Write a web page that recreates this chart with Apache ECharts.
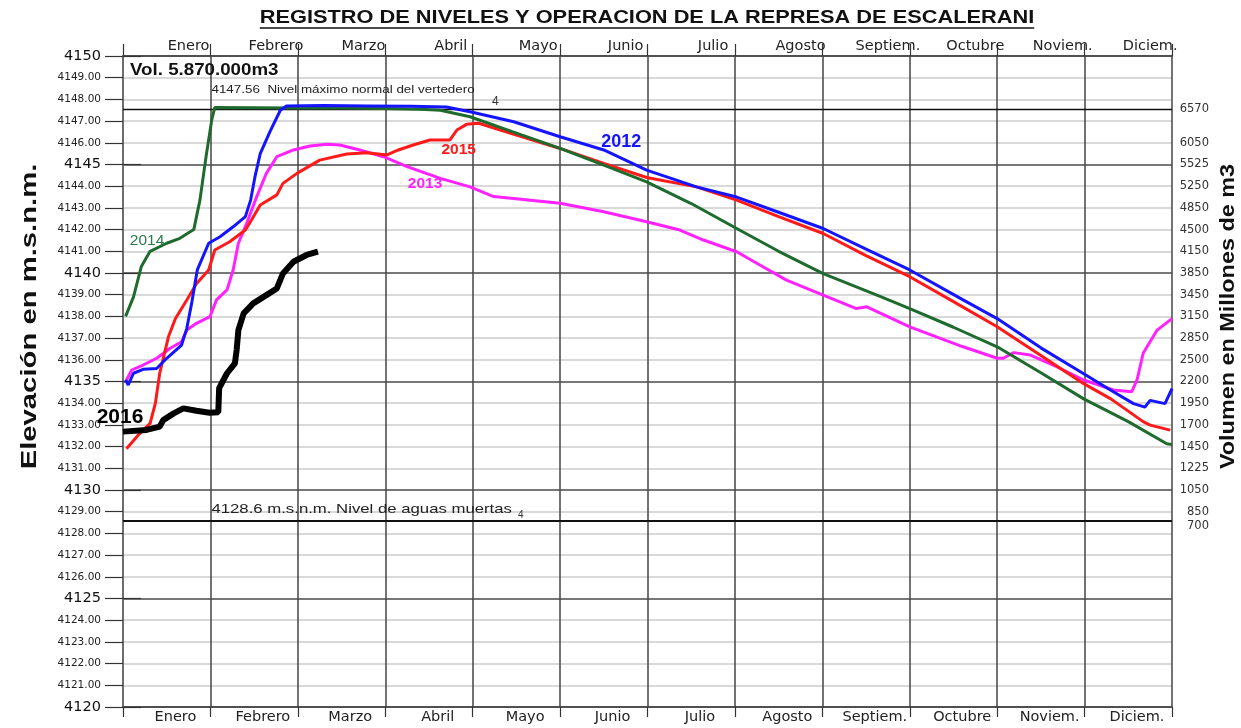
<!DOCTYPE html>
<html><head><meta charset="utf-8">
<script src="https://cdn.jsdelivr.net/npm/echarts@6/dist/echarts.min.js"></script>
<style>html,body{margin:0;padding:0;background:#fff}#c{width:1241px;height:728px}</style>
</head><body><div id="c"></div>
<script>
// ---------- DATA ----------
const chartTitle = 'REGISTRO DE NIVELES Y OPERACION DE LA REPRESA DE ESCALERANI';
const months = ['Enero','Febrero','Marzo','Abril','Mayo','Junio','Julio','Agosto','Septiem.','Octubre','Noviem.','Diciem.'];
// right axis: elevation (m.s.n.m.) -> volume label
const volElev   = [4147.56, 4146, 4145, 4144, 4143, 4142, 4141, 4140, 4139, 4138, 4137, 4136, 4135, 4134, 4133, 4132, 4131, 4130, 4129, 4128.6];
const volLabels = ['6570','6050','5525','5250','4850','4500','4150','3850','3450','3150','2850','2500','2200','1950','1700','1450','1225','1050','850','700'];
const maxLevel = 4147.56;
const deadLevel = 4128.6;
// x = month position (0 = start of Enero, 12 = end of Diciembre), y = elevation
const s2012 = [[0.03,4135.07],[0.06,4134.84],[0.12,4135.38],[0.23,4135.56],[0.385,4135.6],[0.5,4136.07],[0.67,4136.68],[0.73,4137.45],[0.785,4138.6],[0.85,4140.14],[0.98,4141.37],[1.11,4141.67],[1.26,4142.13],[1.4,4142.6],[1.46,4143.36],[1.51,4144.44],[1.57,4145.5],[1.68,4146.5],[1.8,4147.5],[1.87,4147.7],[2.3,4147.72],[2.8,4147.7],[3.3,4147.68],[3.7,4147.65],[3.97,4147.43],[4.47,4146.97],[5.0,4146.28],[5.5,4145.67],[5.99,4144.74],[6.56,4143.97],[7.02,4143.5],[7.5,4142.8],[8.01,4142.05],[8.5,4141.1],[9.0,4140.14],[9.61,4138.76],[10.0,4137.9],[10.5,4136.55],[10.99,4135.36],[11.3,4134.6],[11.56,4133.98],[11.69,4133.82],[11.75,4134.13],[11.92,4133.98],[12.0,4134.67]];
const s2013 = [[0.03,4134.99],[0.1,4135.53],[0.23,4135.76],[0.385,4136.07],[0.54,4136.53],[0.67,4136.83],[0.73,4137.37],[0.84,4137.68],[0.995,4137.99],[1.07,4138.76],[1.19,4139.22],[1.26,4140.14],[1.32,4141.37],[1.415,4142.29],[1.53,4143.52],[1.64,4144.59],[1.76,4145.36],[1.95,4145.67],[2.14,4145.85],[2.33,4145.93],[2.48,4145.9],[2.71,4145.67],[2.98,4145.36],[3.25,4144.9],[3.63,4144.36],[3.97,4143.97],[4.24,4143.52],[5.0,4143.21],[5.5,4142.82],[5.99,4142.36],[6.37,4141.98],[6.64,4141.52],[7.02,4140.98],[7.29,4140.36],[7.59,4139.67],[8.01,4138.98],[8.39,4138.36],[8.51,4138.44],[9.0,4137.52],[9.61,4136.6],[10.0,4136.07],[10.07,4136.07],[10.19,4136.33],[10.38,4136.22],[10.68,4135.68],[10.99,4135.07],[11.33,4134.61],[11.54,4134.53],[11.6,4135.07],[11.67,4136.3],[11.83,4137.37],[12.0,4137.9]];
const s2014 = [[0.03,4138.0],[0.12,4138.9],[0.21,4140.3],[0.31,4141.0],[0.5,4141.37],[0.65,4141.6],[0.81,4142.0],[0.88,4143.36],[0.95,4145.36],[1.015,4147.05],[1.05,4147.63],[1.5,4147.62],[2.0,4147.6],[2.5,4147.6],[3.0,4147.58],[3.4,4147.55],[3.63,4147.5],[3.97,4147.2],[4.46,4146.5],[5.0,4145.74],[5.5,4144.97],[5.99,4144.2],[6.5,4143.2],[7.02,4142.05],[7.5,4141.0],[8.01,4139.97],[8.66,4138.92],[9.0,4138.36],[9.5,4137.5],[10.0,4136.6],[10.5,4135.4],[10.99,4134.2],[11.5,4133.15],[11.94,4132.13],[12.0,4132.1]];
const s2015 = [[0.04,4131.9],[0.19,4132.6],[0.31,4133.07],[0.37,4133.99],[0.42,4135.38],[0.52,4137.06],[0.6,4137.9],[0.73,4138.76],[0.84,4139.5],[0.98,4140.14],[1.05,4141.06],[1.22,4141.44],[1.4,4141.98],[1.47,4142.44],[1.57,4143.13],[1.76,4143.6],[1.83,4144.13],[1.99,4144.59],[2.25,4145.2],[2.56,4145.48],[2.79,4145.54],[3.02,4145.44],[3.15,4145.67],[3.32,4145.9],[3.51,4146.13],[3.74,4146.13],[3.82,4146.59],[3.93,4146.85],[4.07,4146.9],[4.5,4146.36],[5.0,4145.74],[5.5,4145.05],[5.99,4144.4],[6.56,4143.97],[7.02,4143.36],[7.5,4142.6],[8.01,4141.82],[8.5,4140.8],[9.0,4139.83],[9.5,4138.68],[10.0,4137.52],[10.5,4136.2],[10.99,4134.9],[11.3,4134.2],[11.67,4133.15],[11.75,4132.99],[11.98,4132.76]];
const s2016 = [[0,4132.69],[0.27,4132.77],[0.42,4132.92],[0.46,4133.22],[0.58,4133.53],[0.69,4133.76],[0.84,4133.65],[0.99,4133.56],[1.09,4133.58],[1.1,4134.69],[1.19,4135.38],[1.28,4135.84],[1.3,4136.45],[1.32,4137.37],[1.38,4138.14],[1.49,4138.6],[1.64,4138.98],[1.76,4139.29],[1.83,4139.98],[1.95,4140.52],[2.1,4140.83],[2.23,4140.98]];
const volNote = 'Vol. 5.870.000m3';
const maxNote = '4147.56  Nivel máximo normal del vertedero';
const deadNote = '4128.6 m.s.n.m. Nivel de aguas muertas';
const leftTitle = 'Elevación en m.s.n.m.';
const rightTitle = 'Volumen en Millones de m3';

// ---------- CHART ----------
const FONT = '"Liberation Sans", Arial, sans-serif';
const WFONT = '"DejaVu Sans", sans-serif';
const C = {b:'#1414ff', r:'#ff1a1a', m:'#ff22ff', g:'#1f6b2e', k:'#000000'};
const chart = echarts.init(document.getElementById('c'), null, {renderer:'canvas'});

function lineSeries(name, data, color, width, z) {
  return {name, type:'line', data, xAxisIndex:0, yAxisIndex:0, showSymbol:false, symbol:'none',
    lineStyle:{color, width}, itemStyle:{color}, z, animation:false};
}
function note(x, y, text, color, size, weight, pos, offset) {
  return {value:[x,y], itemStyle:{opacity:1}, label:{show:true, formatter:text, color, opacity:1, fontSize:size, fontWeight:weight, fontFamily:FONT,
    position:pos, offset, distance:0}};
}
const volFmt = v => { const i = volElev.findIndex(e => Math.abs(e - v) < 1e-6); return i >= 0 ? volLabels[i] : ''; };

const gridLineColors = ['#4a4a4a','#cdcdcd','#cdcdcd','#cdcdcd','#cdcdcd'];

chart.setOption({
  animation:false,
  backgroundColor:'#fff',
  grid:{left:123, right:69, top:56, bottom:21},
  xAxis:[
    {type:'value', position:'bottom', min:0, max:12, interval:1,
     axisLine:{show:true, lineStyle:{color:'#444', width:1.5}},
     axisTick:{show:true, length:10, lineStyle:{color:'#333', width:1.2}},
     splitLine:{show:true, lineStyle:{color:'#444', width:1.5}},
     axisLabel:{customValues: months.map((_, i) => i + 0.6), formatter: v => months[Math.floor(v)],
       margin:3, fontSize:14.5, color:'#222', fontFamily:WFONT, hideOverlap:false}},
    {type:'value', position:'top', min:0, max:12, interval:1,
     axisLine:{show:true, lineStyle:{color:'#444', width:1.5}},
     axisTick:{show:true, length:12, lineStyle:{color:'#333', width:1.2}},
     splitLine:{show:false},
     axisLabel:{customValues: months.map((_, i) => i + 0.75), formatter: v => months[Math.floor(v)],
       margin:2, fontSize:14.5, color:'#222', fontFamily:WFONT, hideOverlap:false}}
  ],
  yAxis:[
    {type:'value', position:'left', min:4120, max:4150, interval:1,
     axisLine:{show:true, lineStyle:{color:'#444', width:1.5}},
     axisTick:{show:true, length:18, lineStyle:{color:'#333', width:1.2}},
     splitLine:{show:true, lineStyle:{color:gridLineColors, width:1.6}},
     axisLabel:{margin:22, fontFamily:WFONT, color:'#222',
       formatter: v => (v % 5 === 0) ? '{maj|' + v + '}' : '{mi|' + v.toFixed(2) + '}',
       rich:{maj:{fontSize:14.5, fontFamily:WFONT, color:'#111'}, mi:{fontSize:10.5, fontFamily:WFONT, color:'#222'}}}},
    {type:'value', position:'right', min:4120, max:4150,
     axisLine:{show:true, lineStyle:{color:'#777', width:1.5}},
     axisTick:{show:false}, splitLine:{show:false},
     axisLabel:{customValues: volElev.filter(e => e !== deadLevel), formatter: volFmt,
       align:'right', margin:37, fontSize:11.5, color:'#333', fontFamily:WFONT, hideOverlap:false}},
    {type:'value', position:'left', min:4120, max:4150, interval:5,
     axisLine:{show:false}, splitLine:{show:false}, axisLabel:{show:false},
     axisTick:{show:true, inside:true, length:18, lineStyle:{color:'#333', width:1.2}}},
    {type:'value', position:'right', min:4120, max:4150,
     axisLine:{show:false}, axisTick:{show:false}, splitLine:{show:false},
     axisLabel:{customValues:[deadLevel], formatter: volFmt, verticalAlign:'top',
       align:'right', margin:37, fontSize:11.5, color:'#333', fontFamily:WFONT, hideOverlap:false}}
  ],
  series:[
    Object.assign(lineSeries('2013', s2013, C.m, 3, 3), {
      markLine:{silent:true, symbol:'none', label:{show:false}, animation:false,
        data:[{yAxis:maxLevel, lineStyle:{color:'#111', width:1.3, type:'solid'}},
              {yAxis:deadLevel, lineStyle:{color:'#111', width:2.2, type:'solid'}}]}}),
    lineSeries('2015', s2015, C.r, 3, 4),
    lineSeries('2014', s2014, C.g, 3, 5),
    lineSeries('2012', s2012, C.b, 3, 6),
    lineSeries('2016', s2016, C.k, 6, 7),
    {type:'scatter', name:'notes', xAxisIndex:0, yAxisIndex:0, symbolSize:0, clip:false, z:10, silent:true, animation:false,
     itemStyle:{opacity:1},
     data:[
       note(4.22, maxLevel, '4', '#333', 12, 'normal', 'right', [0,-7]),
       note(4.52, deadLevel, '4', '#333', 10, 'normal', 'right', [0,-5]),
       note(5.70, 4146.04, '2012', C.b, 18, 'bold', 'inside', [0,0]),
       note(3.84, 4145.67, '2015', C.r, 15.5, 'bold', 'inside', [0,0]),
       note(3.455, 4144.1, '2013', C.m, 15.5, 'bold', 'inside', [0,0]),
       note(0.275, 4141.47, '2014', '#2a7a4a', 15.5, 'normal', 'inside', [0,0]),
       note(0, 4133.36, '2016', C.k, 21, 'bold', 'inside', [-3,0])
     ]}
  ]
});

// annotation texts anchored to data coordinates
const pMax = chart.convertToPixel({xAxisIndex:0, yAxisIndex:0}, [1.0, maxLevel]);
const pDead = chart.convertToPixel({xAxisIndex:0, yAxisIndex:0}, [1.0, deadLevel]);
const pTop = chart.convertToPixel({xAxisIndex:0, yAxisIndex:0}, [0, 4150]);
const pMid = chart.convertToPixel({xAxisIndex:0, yAxisIndex:0}, [6, 4135]);
const cv = document.createElement('canvas').getContext('2d');
cv.font = 'bold 18px "Liberation Sans"';
const tw = cv.measureText(chartTitle).width * 1.21;
chart.setOption({
  graphic:[
    {type:'text', x:647, y:18, scaleX:1.21, style:{text:chartTitle, font:'bold 18px "Liberation Sans"', fill:'#111', align:'center', verticalAlign:'middle'}},
    {type:'line', shape:{x1:647 - tw/2, y1:28, x2:647 + tw/2, y2:28}, style:{stroke:'#111', lineWidth:1.5}},
    {type:'text', x:30, y:pMid[1] - 65, rotation:Math.PI/2, scaleX:1.33, style:{text:leftTitle, font:'bold 22px "Liberation Sans"', fill:'#111', align:'center', verticalAlign:'middle'}},
    {type:'text', x:1228, y:pMid[1] - 65, rotation:Math.PI/2, scaleX:1.17, style:{text:rightTitle, font:'bold 20px "Liberation Sans"', fill:'#111', align:'center', verticalAlign:'middle'}},
    {type:'text', x:pTop[0] + 7, y:pTop[1] + 15, scaleX:1.17, style:{text:volNote, font:'bold 16px "Liberation Sans"', fill:'#111', align:'left', verticalAlign:'middle'}},
    {type:'text', x:pMax[0] + 1, y:pMax[1] - 19, scaleX:1.22, style:{text:maxNote, font:'11px "Liberation Sans"', fill:'#222', align:'left', verticalAlign:'middle'}},
    {type:'text', x:pDead[0] + 1, y:pDead[1] - 11, scaleX:1.24, style:{text:deadNote, font:'13.5px "Liberation Sans"', fill:'#222', align:'left', verticalAlign:'middle'}}
  ]
});
</script></body></html>
